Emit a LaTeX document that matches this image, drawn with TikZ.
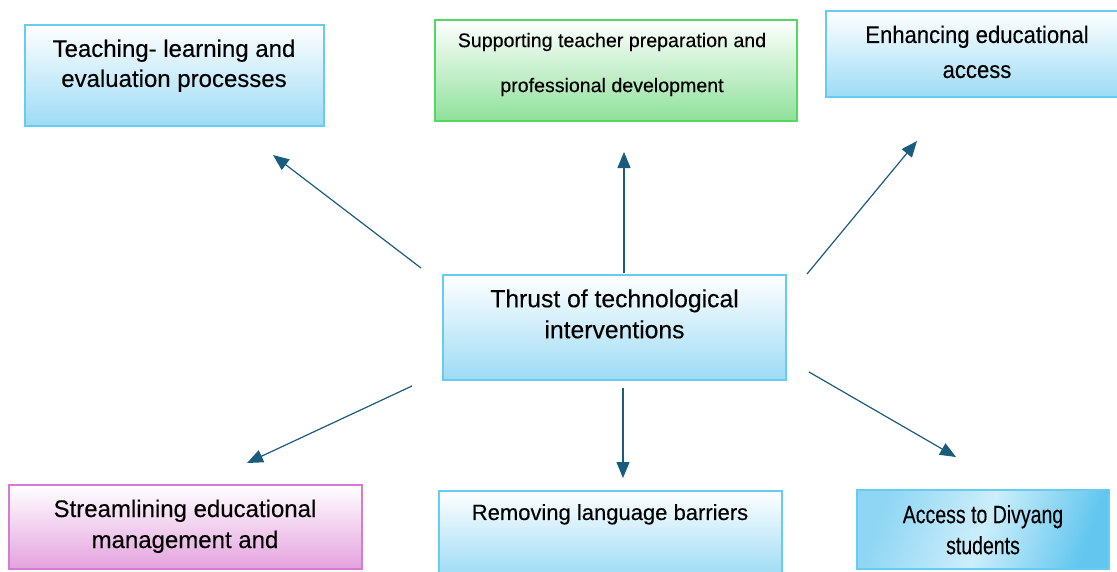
\documentclass[tikz,border=0pt]{standalone}
\usepackage{fontspec}
\setmainfont{Liberation Sans}[FakeBold=0.25]
\newfontfamily\narrowfont[FakeStretch=0.78, FakeBold=0.25]{Liberation Sans}
\newfontfamily\semifont[FakeStretch=0.92, FakeBold=0.25]{Liberation Sans}
\usetikzlibrary{arrows.meta}
\definecolor{bluebrd}{HTML}{66CCF4}
\definecolor{bluebot}{HTML}{9DDBF5}
\definecolor{greenbrd}{HTML}{55D862}
\definecolor{greenbot}{HTML}{8FE09B}
\definecolor{pinkbrd}{HTML}{D77AD6}
\definecolor{pinkbot}{HTML}{E4A2DE}
\definecolor{accdark}{HTML}{62C6EE}
\definecolor{acclight}{HTML}{CDEEFB}
\definecolor{accleft}{HTML}{8ED6F3}
\definecolor{arrowblue}{HTML}{1A5C7E}
\tikzset{
	box/.style={line width=1.8pt, inner sep=0pt},
	bluebox/.style={box, draw=bluebrd, top color=white, bottom color=bluebot},
	greenbox/.style={box, draw=greenbrd, top color=white, bottom color=greenbot},
	pinkbox/.style={box, draw=pinkbrd, top color=white, bottom color=pinkbot},
	accbox/.style={box, draw=bluebrd, left color=accleft, right color=accdark, middle color=acclight, shading angle=70},
	boxtext/.style={align=center, inner sep=0pt, text=black},
	thrustarrow/.style={draw=arrowblue, line width=1.2pt, -{Triangle[length=16pt,width=13pt]}}
}
\begin{document}
\begin{tikzpicture}[x=1pt, y=1pt]
	\useasboundingbox (0,0) rectangle (1117,-571);
	% boxes
	\node[bluebox, minimum width=299pt, minimum height=101pt] (teaching) at (174.5,-75.5) {};
	\node[greenbox, minimum width=362pt, minimum height=101pt] (support) at (616,-70.5) {};
	\node[bluebox, minimum width=296pt, minimum height=86pt] (enhance) at (974,-54) {};
	\node[bluebox, minimum width=343pt, minimum height=105pt] (thrust) at (614.5,-327.5) {};
	\node[pinkbox, minimum width=353pt, minimum height=84pt] (stream) at (185.5,-527) {};
	\node[bluebox, minimum width=343pt, minimum height=85pt] (remove) at (610.5,-533.5) {};
	\node[accbox, minimum width=252pt, minimum height=79pt] (access) at (983,-529.5) {};
	% texts
	\node[boxtext, font=\fontsize{24}{30}\selectfont] (teachingtxt) at (174,-65.7) {Teaching- learning and\\evaluation processes};
	\node[boxtext, font=\fontsize{19.6}{45}\selectfont] (supporttxt) at (612,-64.5) {Supporting teacher preparation and\\professional development};
	\node[boxtext, font=\semifont\fontsize{24}{35}\selectfont] (enhancetxt) at (977,-51.9) {Enhancing educational\\access};
	\node[boxtext, font=\fontsize{24.7}{31}\selectfont] (thrusttxt) at (614.5,-313.9) {Thrust of technological\\interventions};
	\node[boxtext, font=\fontsize{24}{31}\selectfont] (streamtxt) at (185,-526.3) {Streamlining educational\\management and};
	\node[boxtext, font=\fontsize{22}{27}\selectfont] (removetxt) at (610,-514.3) {Removing language barriers};
	\node[boxtext, font=\narrowfont\fontsize{25}{31}\selectfont] (accesstxt) at (983,-529.7) {Access to Divyang\\students};
	% arrows
	\coordinate (teachingfrom) at (421,-268);
	\coordinate (teachingto) at (273,-155);
	\coordinate (supportfrom) at (624,-273);
	\coordinate (supportto) at (624,-152);
	\coordinate (enhancefrom) at (807,-274);
	\coordinate (enhanceto) at (917,-141);
	\coordinate (streamfrom) at (412,-386);
	\coordinate (streamto) at (247,-463);
	\coordinate (removefrom) at (623,-388);
	\coordinate (removeto) at (623,-478);
	\coordinate (accessfrom) at (809,-372);
	\coordinate (accessto) at (956,-457);
	\draw[thrustarrow] (teachingfrom) to (teachingto);
	\draw[thrustarrow] (supportfrom) to (supportto);
	\draw[thrustarrow] (enhancefrom) to (enhanceto);
	\draw[thrustarrow] (streamfrom) to (streamto);
	\draw[thrustarrow] (removefrom) to (removeto);
	\draw[thrustarrow] (accessfrom) to (accessto);
\end{tikzpicture}
\end{document}
